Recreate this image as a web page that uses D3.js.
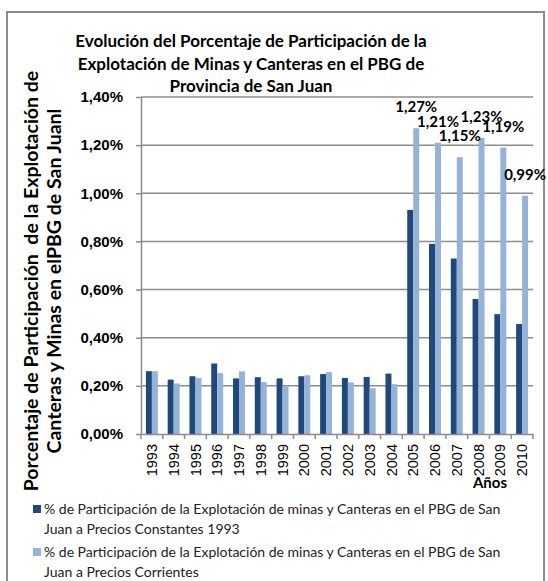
<!DOCTYPE html>
<meta charset="utf-8">
<style>
  body { margin: 0; background: #fff; }
  svg { display: block; font-family: Lato, "Liberation Sans", sans-serif; }
  .grid line { stroke: #8c8c8c; stroke-width: 1.5; }
  .axis path, .axis line { stroke: #8c8c8c; stroke-width: 1.5; }
</style>
<body>
<div id="chart"></div>
<script src="https://cdn.jsdelivr.net/npm/d3@7"></script>
<script>
  // años y valores (% del PBG)
  const years = ['1993', '1994', '1995', '1996', '1997', '1998', '1999', '2000', '2001',
    '2002', '2003', '2004', '2005', '2006', '2007', '2008', '2009', '2010'];
  const constantes = [0.261, 0.226, 0.240, 0.293, 0.231, 0.236, 0.231, 0.240, 0.249,
    0.233, 0.237, 0.251, 0.931, 0.790, 0.729, 0.561, 0.498, 0.457];
  const corrientes = [0.261, 0.210, 0.233, 0.253, 0.260, 0.215, 0.198, 0.244, 0.257,
    0.214, 0.190, 0.207, 1.27, 1.21, 1.15, 1.23, 1.19, 0.99];
  const labeledYears = ['2005', '2006', '2007', '2008', '2009', '2010'];
  const yTicks = [0, 0.2, 0.4, 0.6, 0.8, 1.0, 1.2, 1.4];
  const titleLines = ['Evolución del Porcentaje de Participación de la',
    'Explotación de Minas y Canteras en el PBG de', 'Provincia de San Juan'];
  const yTitleLines = ['Porcentaje de Participación  de la Explotación de',
    'Canteras y Minas en elPBG de San Juanl'];
  const legendLines = [
    ['% de Participación de la Explotación de minas y Canteras en el PBG de San', 'Juan a Precios Constantes 1993'],
    ['% de Participación de la Explotación de minas y Canteras en el PBG de San', 'Juan a Precios Corrientes']];
  const colors = ['#1f497d', '#95b3d7'];

  const W = 548, H = 581;
  const plotL = 141, plotR = 533, plotT = 97, plotB = 434;

  const es = d3.formatLocale({ decimal: ',', thousands: '.', grouping: [3], currency: ['', ' €'] });
  const pct = v => es.format('.2f')(v) + '%';

  const rows = years.map((yr, i) => ({ year: yr, values: [constantes[i], corrientes[i]] }));

  const svg = d3.select('#chart').append('svg')
      .attr('width', W).attr('height', H);

  // marco
  svg.append('rect')
      .attr('x', 7).attr('y', 12).attr('width', 537).attr('height', H)
      .attr('fill', 'none').attr('stroke', '#8c8c8c').attr('stroke-width', 2);

  const x = d3.scaleBand().domain(years).range([plotL, plotR]);
  const x1 = d3.scaleBand().domain([0, 1]).range([0, x.bandwidth()]).paddingOuter(0.82);
  const y = d3.scaleLinear().domain([0, 1.4]).range([plotB, plotT]);

  // líneas de cuadrícula
  svg.append('g').attr('class', 'grid')
      .selectAll('line').data(yTicks.slice(1)).enter().append('line')
      .attr('x1', plotL).attr('x2', plotR)
      .attr('y1', d => y(d)).attr('y2', d => y(d));

  // barras
  svg.append('g').selectAll('g').data(rows).enter().append('g')
      .attr('transform', d => `translate(${x(d.year)},0)`)
      .selectAll('rect').data(d => d.values).enter().append('rect')
      .attr('x', (d, i) => x1(i))
      .attr('y', d => y(d))
      .attr('width', x1.bandwidth())
      .attr('height', d => y(0) - y(d))
      .attr('fill', (d, i) => colors[i]);

  // etiquetas de datos
  svg.append('g').selectAll('text')
      .data(rows.filter(r => labeledYears.includes(r.year))).enter().append('text')
      .attr('x', d => x(d.year) + x1(1) + x1.bandwidth() / 2)
      .attr('y', d => y(d.values[1]) - 16)
      .attr('text-anchor', 'middle')
      .attr('font-size', 15).attr('font-weight', 'bold')
      .text(d => pct(d.values[1]));

  // eje Y
  const yAxis = svg.append('g').attr('class', 'axis')
      .attr('transform', `translate(${plotL},0)`)
      .call(d3.axisLeft(y).tickValues(yTicks).tickSize(5).tickSizeOuter(0).tickPadding(13)
        .tickFormat(pct));
  yAxis.selectAll('text').attr('font-size', 15).attr('font-weight', 'bold')
      .attr('fill', '#000').style('font-family', 'inherit');

  // eje X
  const xAxis = svg.append('g').attr('class', 'axis')
      .attr('transform', `translate(0,${plotB})`)
      .call(d3.axisBottom(x).tickSize(0).tickSizeOuter(0));
  xAxis.selectAll('text')
      .attr('transform', 'rotate(-90)')
      .attr('x', -10).attr('y', 0).attr('dy', '0.35em')
      .attr('text-anchor', 'end')
      .attr('font-size', 14.5).attr('fill', '#000').style('font-family', 'inherit');
  xAxis.selectAll('line.sep').data(years.concat(['end'])).enter().append('line')
      .attr('class', 'sep')
      .attr('x1', d => d === 'end' ? plotR : x(d))
      .attr('x2', d => d === 'end' ? plotR : x(d))
      .attr('y1', 0).attr('y2', 5);

  svg.append('text')
      .attr('x', 490).attr('y', 488)
      .attr('text-anchor', 'middle')
      .attr('font-size', 15).attr('font-weight', 'bold')
      .text('Años');

  // título
  svg.append('g').selectAll('text').data(titleLines).enter().append('text')
      .attr('x', 251).attr('y', (d, i) => 47 + i * 22.5)
      .attr('text-anchor', 'middle')
      .attr('font-size', 17).attr('font-weight', 'bold')
      .text(d => d);

  // título eje Y
  svg.append('g').selectAll('text').data(yTitleLines).enter().append('text')
      .attr('transform', (d, i) => `translate(${38 + i * 23},281) rotate(-90)`)
      .attr('text-anchor', 'middle')
      .attr('font-size', 19.5).attr('font-weight', 'bold')
      .style('white-space', 'pre')
      .text(d => d);

  // leyenda
  const legend = svg.append('g').selectAll('g').data(legendLines).enter().append('g')
      .attr('transform', (d, i) => `translate(33,${505 + i * 43})`);
  legend.append('rect')
      .attr('width', 8).attr('height', 8)
      .attr('fill', (d, i) => colors[i]);
  legend.selectAll('text').data(d => d).enter().append('text')
      .attr('x', 11).attr('y', (d, i) => 9 + i * 20)
      .attr('font-size', 14)
      .attr('fill', '#222')
      .text(d => d);
</script>
